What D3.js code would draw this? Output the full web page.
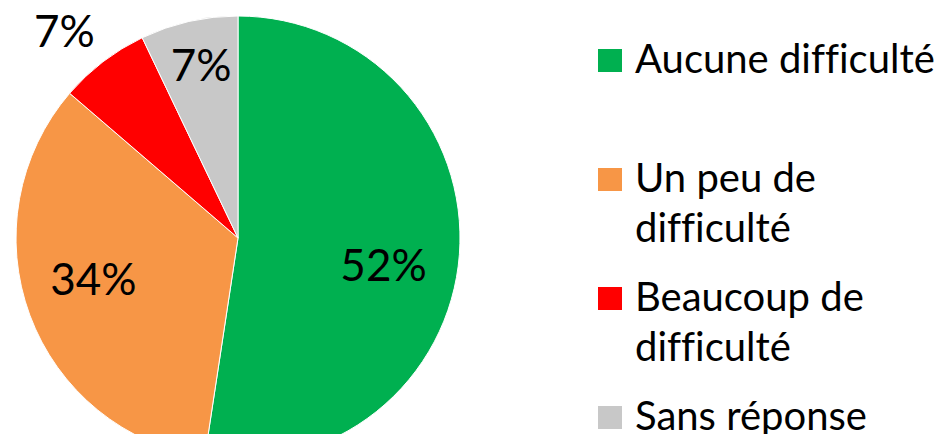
<!DOCTYPE html>
<html>
<head>
<meta charset="utf-8">
<script src="https://cdn.jsdelivr.net/npm/d3@7"></script>
<style>
  body { margin: 0; background: #fff; }
  svg { display: block; font-family: Lato, "Open Sans", sans-serif; font-variant-ligatures: none; }
</style>
</head>
<body>
<div id="chart"></div>
<script>
// slice data, clockwise from 12 o'clock
var categories = [ 'Aucune difficulté', 'Un peu de difficulté', 'Beaucoup de difficulté', 'Sans réponse' ];
var values = [ 52.4, 33.9, 6.6, 7.1 ];
var colors = [ '#00b050', '#f79646', '#ff0000', '#c8c8c8' ];

var width = 950, height = 434;
var cx = 238, cy = 238, radius = 222;
// where each percent label sits: fraction of the radius, then a small nudge in px
var labelRadii = [ 0.68, 0.68, 1.22, 0.79 ];
var labelNudge = [ [ -5, 15 ], [ -3, -12 ], [ -9, 7 ], [ 2, -3 ] ];

var svg = d3.select( '#chart' ).append( 'svg' )
    .attr( 'width', width ).attr( 'height', height );

var pie = d3.pie().sort( null );
var arc = d3.arc().innerRadius( 0 ).outerRadius( radius );
var fmt = d3.format( '.0f' );
var total = d3.sum( values );

var g = svg.append( 'g' )
    .attr( 'transform', 'translate(' + cx + ',' + cy + ')' );

var arcs = g.selectAll( '.arc' )
    .data( pie( values ) )
    .enter().append( 'g' )
    .attr( 'class', 'arc' );

arcs.append( 'path' )
    .attr( 'fill', function( d, i ) { return colors[ i ]; } )
    .attr( 'stroke', '#fff' )
    .attr( 'stroke-width', 1 )
    .attr( 'd', arc );

arcs.append( 'text' )
    .attr( 'transform', function( d, i ) {
        var r = radius * labelRadii[ i ];
        var c = d3.arc().innerRadius( r ).outerRadius( r ).centroid( d );
        return 'translate(' + ( c[0] + labelNudge[i][0] ) + ',' + ( c[1] + labelNudge[i][1] ) + ')';
    })
    .attr( 'text-anchor', 'middle' )
    .attr( 'dominant-baseline', 'central' )
    .style( 'font-size', '44px' )
    .attr( 'fill', '#000' )
    .text( function( d ) { return fmt( d.data / total * 100 ) + '%'; } );

// legend, entries evenly spaced, long names wrapped
var legendX = 598, legendY = 61, legendStep = 119, box = 24;
var textX = 635, lineH = 50, maxW = width - textX - 4;

var legend = svg.selectAll( '.legend' )
    .data( categories )
    .enter().append( 'g' )
    .attr( 'class', 'legend' )
    .attr( 'transform', function( d, i ) {
        return 'translate(0,' + ( legendY + i * legendStep ) + ')';
    });

legend.append( 'rect' )
    .attr( 'x', legendX )
    .attr( 'y', -box / 2 )
    .attr( 'width', box )
    .attr( 'height', box - 1 )
    .attr( 'fill', function( d, i ) { return colors[ i ]; } );

legend.each( function( d ) {
    var text = d3.select( this ).append( 'text' )
        .attr( 'x', textX )
        .attr( 'y', 12 )
        .style( 'font-size', '40px' )
        .attr( 'fill', '#000' );
    var words = d.split( ' ' ), line = [], n = 0;
    var tspan = text.append( 'tspan' ).attr( 'x', textX ).attr( 'y', 12 );
    words.forEach( function( w ) {
        line.push( w );
        tspan.text( line.join( ' ' ) );
        if ( tspan.node().getComputedTextLength() > maxW && line.length > 1 ) {
            line.pop();
            tspan.text( line.join( ' ' ) );
            line = [ w ];
            n++;
            tspan = text.append( 'tspan' ).attr( 'x', textX ).attr( 'y', 12 + n * lineH ).text( w );
        }
    });
});
</script>
</body>
</html>
